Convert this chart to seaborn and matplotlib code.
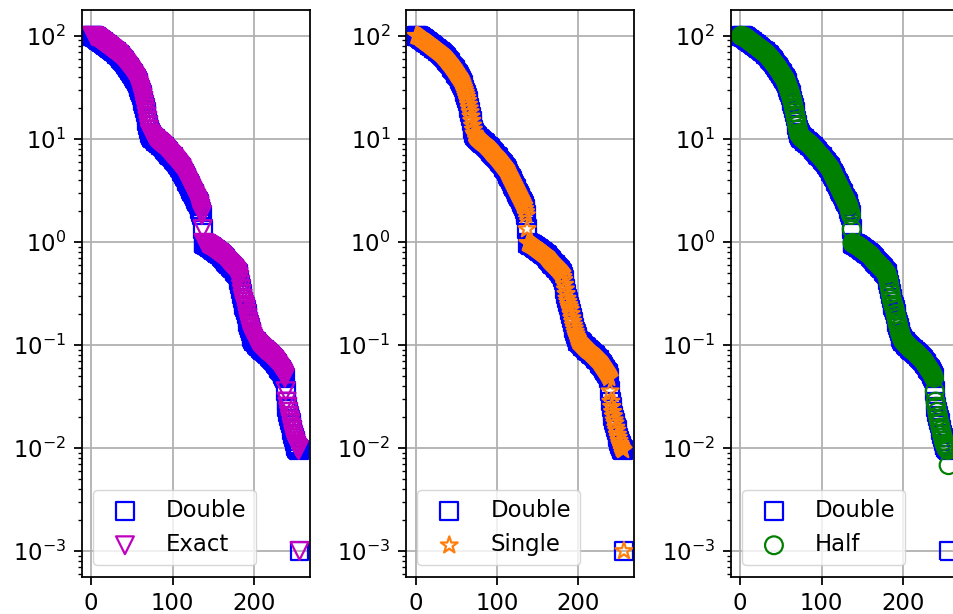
import matplotlib
matplotlib.use("Agg")
import matplotlib.pyplot as plt
import seaborn as sns

# Singular value index (1..256)
sv_index = list(range(1, 257))

# Singular values shared by all precisions (index 1..255)
sv_common = [
    100, 99.5, 98.9, 98.4, 97.7, 96.6, 95.1, 93.8, 92.5, 91.2,
    90.2, 88.7, 87.5, 86.5, 85.1, 84.3, 83.2, 81.8, 80.7, 79.4,
    78.5, 77.3, 76.2, 75.3, 74.1, 73.5, 72.1, 71.1, 70.3, 69.2,
    68.1, 67.0, 65.8, 64.6, 63.1, 61.9, 60.5, 59.3, 57.8, 56.5,
    55.3, 54.1, 52.7, 51.5, 50.1, 49.0, 47.6, 46.2, 45.0, 43.7,
    42.5, 41.3, 40.3, 39.1, 38.0, 36.4, 34.8, 33.1, 31.5, 29.8,
    28.2, 26.6, 25.0, 23.4, 21.5, 19.8, 18.2, 16.5, 15.0, 13.5,
    12.3, 11.3, 10.9, 10.6, 10.4, 10.2, 10.05, 9.89, 9.73, 9.55,
    9.42, 9.29, 9.16, 9.04, 8.91, 8.77, 8.59, 8.43, 8.28, 8.13,
    7.94, 7.78, 7.60, 7.43, 7.26, 7.13, 7.00, 6.87, 6.75, 6.61,
    6.46, 6.31, 6.17, 6.03, 5.89, 5.75, 5.62, 5.50, 5.36, 5.24,
    5.11, 4.90, 4.71, 4.53, 4.37, 4.21, 4.06, 3.91, 3.77, 3.63,
    3.50, 3.37, 3.25, 3.13, 3.02, 2.91, 2.81, 2.70, 2.61, 2.51,
    2.42, 2.32, 2.24, 2.09, 1.95, 1.82, 1.33, 0.977, 0.966, 0.957,
    0.948, 0.940, 0.931, 0.920, 0.912, 0.899, 0.887, 0.875, 0.863, 0.851,
    0.839, 0.828, 0.817, 0.805, 0.794, 0.783, 0.773, 0.762, 0.752, 0.741,
    0.724, 0.708, 0.692, 0.676, 0.661, 0.649, 0.637, 0.625, 0.614, 0.603,
    0.592, 0.581, 0.570, 0.560, 0.550, 0.537, 0.525, 0.513, 0.501, 0.490,
    0.457, 0.427, 0.385, 0.347, 0.313, 0.282, 0.263, 0.245, 0.232, 0.219,
    0.200, 0.182, 0.168, 0.155, 0.145, 0.135, 0.127, 0.120, 0.115, 0.110,
    0.108, 0.106, 0.104, 0.102, 0.100, 0.0983, 0.0964, 0.0946, 0.0929, 0.0912,
    0.0899, 0.0887, 0.0875, 0.0863, 0.0851, 0.0836, 0.0820, 0.0805, 0.0791, 0.0776,
    0.0762, 0.0748, 0.0735, 0.0721, 0.0708, 0.0689, 0.0670, 0.0652, 0.0634, 0.0617,
    0.0600, 0.0583, 0.0568, 0.0552, 0.0537, 0.0519, 0.0501, 0.0479, 0.0355, 0.0282,
    0.0251, 0.0224, 0.0204, 0.0186, 0.0174, 0.0158, 0.0148, 0.0135, 0.0126, 0.0117,
    0.0110, 0.0105, 0.0100, 0.00977, 0.00955,
]

# Smallest singular value (index 256) differs per precision
last_double = [0.001]
last_exact = [0.001]
last_single = [0.001]
last_half = [0.0068]

sv_double = sv_common + last_double
sv_exact = sv_common + last_exact
sv_single = sv_common + last_single
sv_half = sv_common + last_half

# (label, values, marker, colour) for the second series of each panel
panels = [
    ("Exact", sv_exact, "v", "m"),
    ("Single", sv_single, "*", "#ff7f0e"),
    ("Half", sv_half, "o", "g"),
]

# Scale everything up from the default 72 dpi sizes
k = 1.6
plt.rcParams.update({
    "font.size": 16.4,
    "axes.linewidth": 0.8 * k,
    "grid.linewidth": 0.8 * k,
    "xtick.major.size": 3.5 * k, "ytick.major.size": 3.5 * k,
    "xtick.major.width": 0.8 * k, "ytick.major.width": 0.8 * k,
    "xtick.minor.size": 2 * k, "ytick.minor.size": 2 * k,
    "xtick.minor.width": 0.6 * k, "ytick.minor.width": 0.6 * k,
    "xtick.major.pad": 3.5 * k, "ytick.major.pad": 3.5 * k,
})

msize = (8 * k) ** 2  # marker area in pt^2
mlw = 1.0 * k

fig = plt.figure(figsize=(9.54, 6.14), dpi=100)
lefts = [0.0856, 0.4256, 0.7659]  # third panel runs off the right edge

for left, (label, values, marker, color) in zip(lefts, panels):
    ax = fig.add_axes([left, 0.0607, 0.2393, 0.9230])
    sns.scatterplot(x=sv_index, y=sv_double, marker="s", s=msize,
                    facecolors="none", edgecolor="b", linewidth=mlw,
                    label="Double", ax=ax)
    sns.scatterplot(x=sv_index, y=values, marker=marker, s=msize,
                    facecolors="none", edgecolor=color, linewidth=mlw,
                    label=label, ax=ax)
    ax.set_yscale("log")
    ax.grid(True)
    ax.set_axisbelow(True)
    ax.legend(loc="lower left")

fig.savefig("out.png", dpi=100)
